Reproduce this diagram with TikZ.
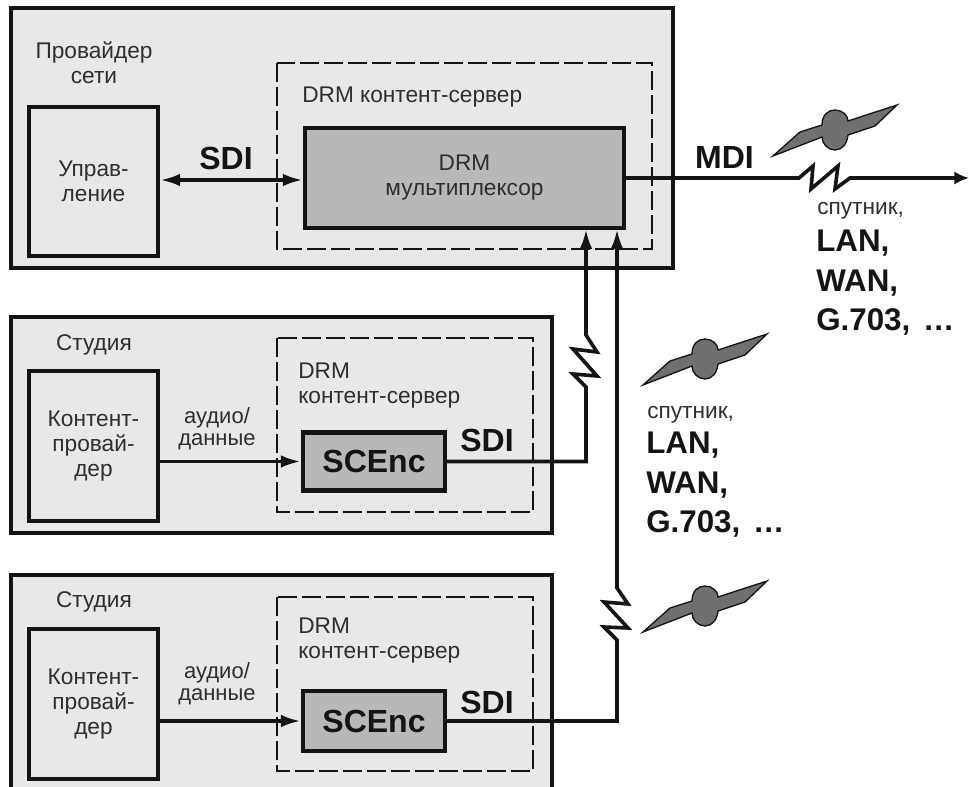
\documentclass[tikz,border=0pt]{standalone}
\usepackage{fontspec}
\setmainfont{Liberation Sans}
\usetikzlibrary{arrows.meta}
\definecolor{panelgray}{gray}{0.91}
\definecolor{muxgray}{gray}{0.72}
\definecolor{satgray}{gray}{0.44}
\definecolor{inkk}{gray}{0.08}
\definecolor{textk}{gray}{0.18}
\tikzset{
  panel/.style={draw=inkk,line width=3pt,fill=panelgray},
  lightbox/.style={draw=inkk,line width=3.3pt,fill=panelgray,inner sep=0pt},
  graybox/.style={draw=inkk,line width=3.3pt,fill=muxgray,inner sep=0pt},
  dashbox/.style={draw=inkk,line width=1.1pt,dash pattern=on 14pt off 4pt},
  conn/.style={draw=inkk,line width=2.7pt,line join=miter},
  tipv/.style={-{Latex[length=15pt,width=9.5pt]}},
  txt/.style={font=\fontsize{17}{18.75}\selectfont,align=center,text=textk,inner sep=0pt},
  small/.style={font=\fontsize{16.5}{16.5}\selectfont,align=center,text=textk,inner sep=0pt},
  txtl/.style={txt,align=left},
  bold/.style={font=\fontsize{24}{28}\selectfont\bfseries,text=inkk,inner sep=0pt,align=center},
  net/.style={font=\fontsize{23.5}{29.6}\selectfont\bfseries,text=inkk,inner sep=0pt,align=left},
  sat/.pic={\fill[satgray,draw=inkk,line width=1pt]
     (-62,26) -- (-35,2) -- (-13,-5) .. controls (-13,-15) and (-7,-20) .. (0,-20)
     .. controls (7,-20) and (13,-15) .. (13,-9) -- (62,-25) -- (40,-4) -- (13,5)
     .. controls (12,14) and (7,20) .. (0,20) .. controls (-7,20) and (-13,14) .. (-13,7) -- cycle;}
}
\begin{document}
\begin{tikzpicture}[x=0.75pt,y=-0.75pt]
\useasboundingbox (0,0) rectangle (969,787);
% panels
\path[panel] (10.5,8) rectangle (673,268);
\path[panel] (10.5,317) rectangle (552,533);
\fill[panelgray] (10.5,575) rectangle (552,787);
\draw[inkk,line width=3pt] (10.5,787) -- (10.5,575) -- (552,575) -- (552,787);
\draw[dashbox] (277,63) rectangle (652,249);
\draw[dashbox] (277,338) rectangle (533,512);
\draw[dashbox] (277,597) rectangle (533,771);
% boxes
\node[lightbox,minimum width=96.75pt,minimum height=111.75pt,txt] (ctl) at (93.5,181.5) {Управ-\\ление};
\node[graybox,minimum width=239.25pt,minimum height=75pt,txt] (mux) at (464.5,178) {DRM\\мультиплексор};
\node[lightbox,minimum width=96.75pt,minimum height=112.5pt,txt] (cp1) at (93.5,446) {Контент-\\провай-\\дер};
\node[lightbox,minimum width=96.75pt,minimum height=112.5pt,txt] (cp2) at (93.5,704) {Контент-\\провай-\\дер};
\node[graybox,minimum width=106.5pt,minimum height=43.5pt,bold] (enc1) at (374,461.5) {SCEnc};
\node[graybox,minimum width=106.5pt,minimum height=45pt,bold] (enc2) at (374,721) {SCEnc};
% labels
\node[txt,anchor=center] (l1) at (94,63) {Провайдер\\сети};
\node[txtl,anchor=base west] (l2) at (302,103) {DRM контент-сервер};
\node[txtl,anchor=base] (l3) at (94,350) {Студия};
\node[txtl,anchor=west] (l4) at (298,386) {DRM\\контент-сервер};
\node[txtl,anchor=base] (l5) at (94,607) {Студия};
\node[txtl,anchor=west] (l6) at (298,641) {DRM\\контент-сервер};
\node[small] (a1) at (217,429) {аудио/\\данные};
\node[small] (a2) at (217,684) {аудио/\\данные};
\node[bold,anchor=base] (s0) at (226,170) {SDI};
\node[bold,anchor=base] (s1) at (487,451) {SDI};
\node[bold,anchor=base] (s2) at (487,713) {SDI};
\node[bold,anchor=base] (m0) at (724.5,169) {MDI};
\node[txtl,anchor=base west] (n0) at (817,215) {спутник,};
\node[net,anchor=north west] (n1) at (816,230) {LAN,\\WAN,\\G.703,\hspace{3pt} …};
\node[txtl,anchor=base west] (n2) at (647,418) {спутник,};
\node[net,anchor=north west] (n3) at (646,432) {LAN,\\WAN,\\G.703,\hspace{3pt} …};
% connectors
\coordinate (sy) at (220,180);
\coordinate (t1) at (586,229);
\coordinate (t2) at (617,229);
\coordinate (e0) at (969,178);
\coordinate (c1) at (586,387);
\coordinate (c2) at (617,640);
\coordinate (m1) at (799,178);
\draw[conn,{Latex[length=15pt,width=9.5pt]}-{Latex[length=15pt,width=9.5pt]}] (ctl.east |- sy) -- (mux.west |- sy);
\draw[conn,tipv] (cp1.east |- enc1.west) -- (enc1.west);
\draw[conn,tipv] (cp2.east |- enc2.west) -- (enc2.west);
\draw[conn,tipv] (enc1.east) -| (c1) -- (573,374) -- (597,376) -- (573,349) -- (597,352) -- (586,335) -- (t1);
\draw[conn,tipv] (enc2.east) -| (c2) -- (604,627) -- (628,628) -- (604,602) -- (628,604) -- (617,588) -- (t2);
\draw[conn,-{Latex[length=11pt,width=10pt]}] (mux.east |- e0) -- (m1) -- (813,166) -- (811,189) -- (838,166) -- (835,189) -- (850,178) -- (e0);
% satellites
\pic at (835,130) {sat};
\pic at (705,359) {sat};
\pic at (705,606) {sat};
\end{tikzpicture}
\end{document}
